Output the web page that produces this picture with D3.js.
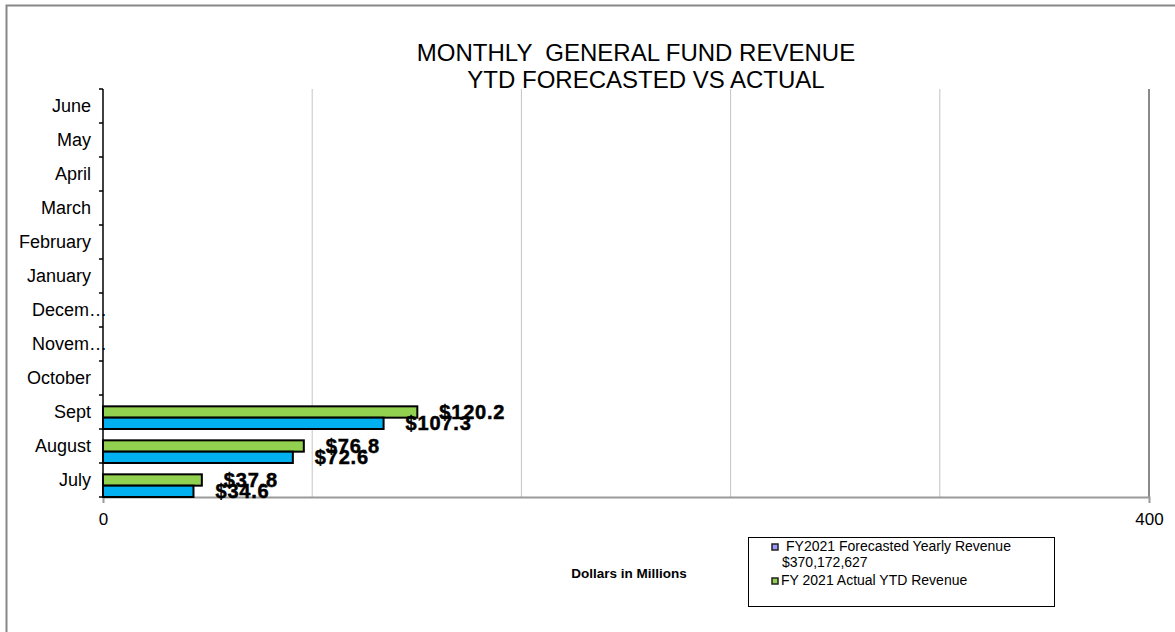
<!DOCTYPE html>
<html>
<head>
<meta charset="utf-8">
<script src="https://cdn.jsdelivr.net/npm/d3@7"></script>
<style>
  body { margin: 0; background: #fff; }
  svg { display: block; font-family: Arial, "Liberation Sans", sans-serif; }
</style>
</head>
<body>
<svg id="chart"></svg>
<script>
// months from bottom (July) to top (June), labels as shown on the chart
const monthLabels = ['July', 'August', 'Sept', 'October', 'Novem\u2026', 'Decem\u2026',
  'January', 'February', 'March', 'April', 'May', 'June'];
// FY2021 forecasted revenue, $ millions (YTD)
const forecastValues = [34.6, 72.6, 107.3, null, null, null, null, null, null, null, null, null];
// FY2021 actual YTD revenue, $ millions
const actualValues = [37.8, 76.8, 120.2, null, null, null, null, null, null, null, null, null];
const xTicks = [0, 400];
const xGrid = [80, 160, 240, 320];
const seriesNames = ['FY2021 Forecasted Yearly Revenue', 'FY 2021 Actual YTD Revenue'];
const forecastTotal = '$370,172,627';

const width = 1175, height = 632;
const plot = {left: 103, right: 1149, top: 89, bottom: 497};

const svg = d3.select('#chart')
    .attr('width', width)
    .attr('height', height);

// outer frame (runs off the right and bottom edges like the original)
svg.append('rect')
    .attr('x', 6.5).attr('y', 5.5)
    .attr('width', 1300).attr('height', 800)
    .attr('fill', '#fff')
    .attr('stroke', '#888')
    .attr('stroke-width', 2);

// scales
const x = d3.scaleLinear()
    .domain([0, 400])
    .range([plot.left, plot.right]);

const y = d3.scaleBand()
    .domain(monthLabels.slice().reverse())
    .range([plot.top, plot.bottom]);

// inner slots: empty slot on top, then actual, then forecast
const ySub = d3.scaleBand()
    .domain(['none', 'actual', 'forecast'])
    .range([0, y.bandwidth()]);

const rows = monthLabels.map((m, i) => ({
  month: m,
  forecast: forecastValues[i],
  actual: actualValues[i]
}));

// gridlines
svg.append('g').selectAll('line')
    .data(xGrid)
  .join('line')
    .attr('x1', d => x(d)).attr('x2', d => x(d))
    .attr('y1', plot.top).attr('y2', plot.bottom)
    .attr('stroke', '#c4c4c4')
    .attr('stroke-width', 1);

svg.append('line')
    .attr('x1', x(400)).attr('x2', x(400))
    .attr('y1', plot.top).attr('y2', plot.bottom)
    .attr('stroke', '#8a8a8a')
    .attr('stroke-width', 2);

// x axis
const xAxisG = svg.append('g')
    .attr('transform', `translate(0,${plot.bottom})`)
    .call(d3.axisBottom(x).tickValues(xTicks).tickSize(6).tickPadding(10))
    .call(g => g.select('.domain').attr('stroke', '#9a9a9a').attr('stroke-width', 2));
xAxisG.selectAll('.tick line').attr('stroke', '#9a9a9a');
xAxisG.selectAll('.tick text')
    .attr('font-size', 17)
    .attr('fill', '#000')
    .attr('font-family', 'Arial, "Liberation Sans", sans-serif');

// bars
const barG = svg.append('g');
const series = [
  {key: 'actual', color: '#92d050'},
  {key: 'forecast', color: '#00b0f0'}
];

series.forEach(s => {
  const data = rows.filter(d => d[s.key] != null);
  barG.selectAll('.bar-' + s.key)
      .data(data)
    .join('rect')
      .attr('class', 'bar-' + s.key)
      .attr('x', x(0))
      .attr('y', d => y(d.month) + ySub(s.key))
      .attr('width', d => x(d[s.key]) - x(0))
      .attr('height', ySub.bandwidth())
      .attr('fill', s.color)
      .attr('stroke', '#000')
      .attr('stroke-width', 2);

  barG.selectAll('.lbl-' + s.key)
      .data(data)
    .join('text')
      .attr('class', 'lbl-' + s.key)
      .attr('x', d => x(d[s.key]) + 22)
      .attr('y', d => y(d.month) + ySub(s.key) + ySub.bandwidth() / 2 + 7)
      .attr('font-size', 20)
      .attr('font-weight', 'bold')
      .attr('letter-spacing', 0.8)
      .attr('stroke', '#000')
      .attr('stroke-width', 0.5)
      .text(d => '$' + d[s.key].toFixed(1));
});

// y axis
const yAxisG = svg.append('g')
    .attr('transform', `translate(${plot.left},0)`)
    .call(d3.axisLeft(y).tickSize(0).tickPadding(12))
    .call(g => g.select('.domain').remove());
yAxisG.selectAll('.tick text')
    .attr('font-size', 18)
    .attr('fill', '#000')
    .attr('font-family', 'Arial, "Liberation Sans", sans-serif')
    .filter(d => d.endsWith('\u2026'))
    .attr('text-anchor', 'start')
    .attr('x', -71);

svg.append('line')
    .attr('x1', plot.left).attr('x2', plot.left)
    .attr('y1', plot.top).attr('y2', plot.bottom)
    .attr('stroke', '#000')
    .attr('stroke-width', 1.5);

const bounds = y.domain().map(m => y(m)).concat([plot.bottom]);
svg.append('g').selectAll('line')
    .data(bounds)
  .join('line')
    .attr('x1', plot.left - 4).attr('x2', plot.left)
    .attr('y1', d => d).attr('y2', d => d)
    .attr('stroke', '#000')
    .attr('stroke-width', 1.5);

// title
const title = svg.append('text')
    .attr('font-size', 24)
    .attr('text-anchor', 'middle')
    .attr('fill', '#000');
title.append('tspan')
    .attr('x', 636).attr('y', 61)
    .attr('xml:space', 'preserve')
    .style('white-space', 'pre')
    .text('MONTHLY  GENERAL FUND REVENUE');
title.append('tspan')
    .attr('x', 646).attr('y', 88)
    .text('YTD FORECASTED VS ACTUAL');

// axis title
svg.append('text')
    .attr('x', 629).attr('y', 578)
    .attr('text-anchor', 'middle')
    .attr('font-size', 13.5)
    .attr('font-weight', 'bold')
    .text('Dollars in Millions');

// legend
const legend = svg.append('g').attr('transform', 'translate(748,537)');
legend.append('rect')
    .attr('x', 0.5).attr('y', 0.5)
    .attr('width', 306).attr('height', 69)
    .attr('fill', '#fff')
    .attr('stroke', '#000')
    .attr('stroke-width', 1);

legend.append('rect')
    .attr('x', 24).attr('y', 7)
    .attr('width', 6).attr('height', 6)
    .attr('fill', '#9999ff')
    .attr('stroke', '#222').attr('stroke-width', 1.5);
legend.append('text')
    .attr('x', 38).attr('y', 14)
    .attr('font-size', 14)
    .text(seriesNames[0]);
legend.append('text')
    .attr('x', 34).attr('y', 30)
    .attr('font-size', 14)
    .text(forecastTotal);

legend.append('rect')
    .attr('x', 24).attr('y', 41)
    .attr('width', 6).attr('height', 6)
    .attr('fill', '#92d050')
    .attr('stroke', '#222').attr('stroke-width', 1.5);
legend.append('text')
    .attr('x', 33).attr('y', 48)
    .attr('font-size', 14)
    .text(seriesNames[1]);
</script>
</body>
</html>
